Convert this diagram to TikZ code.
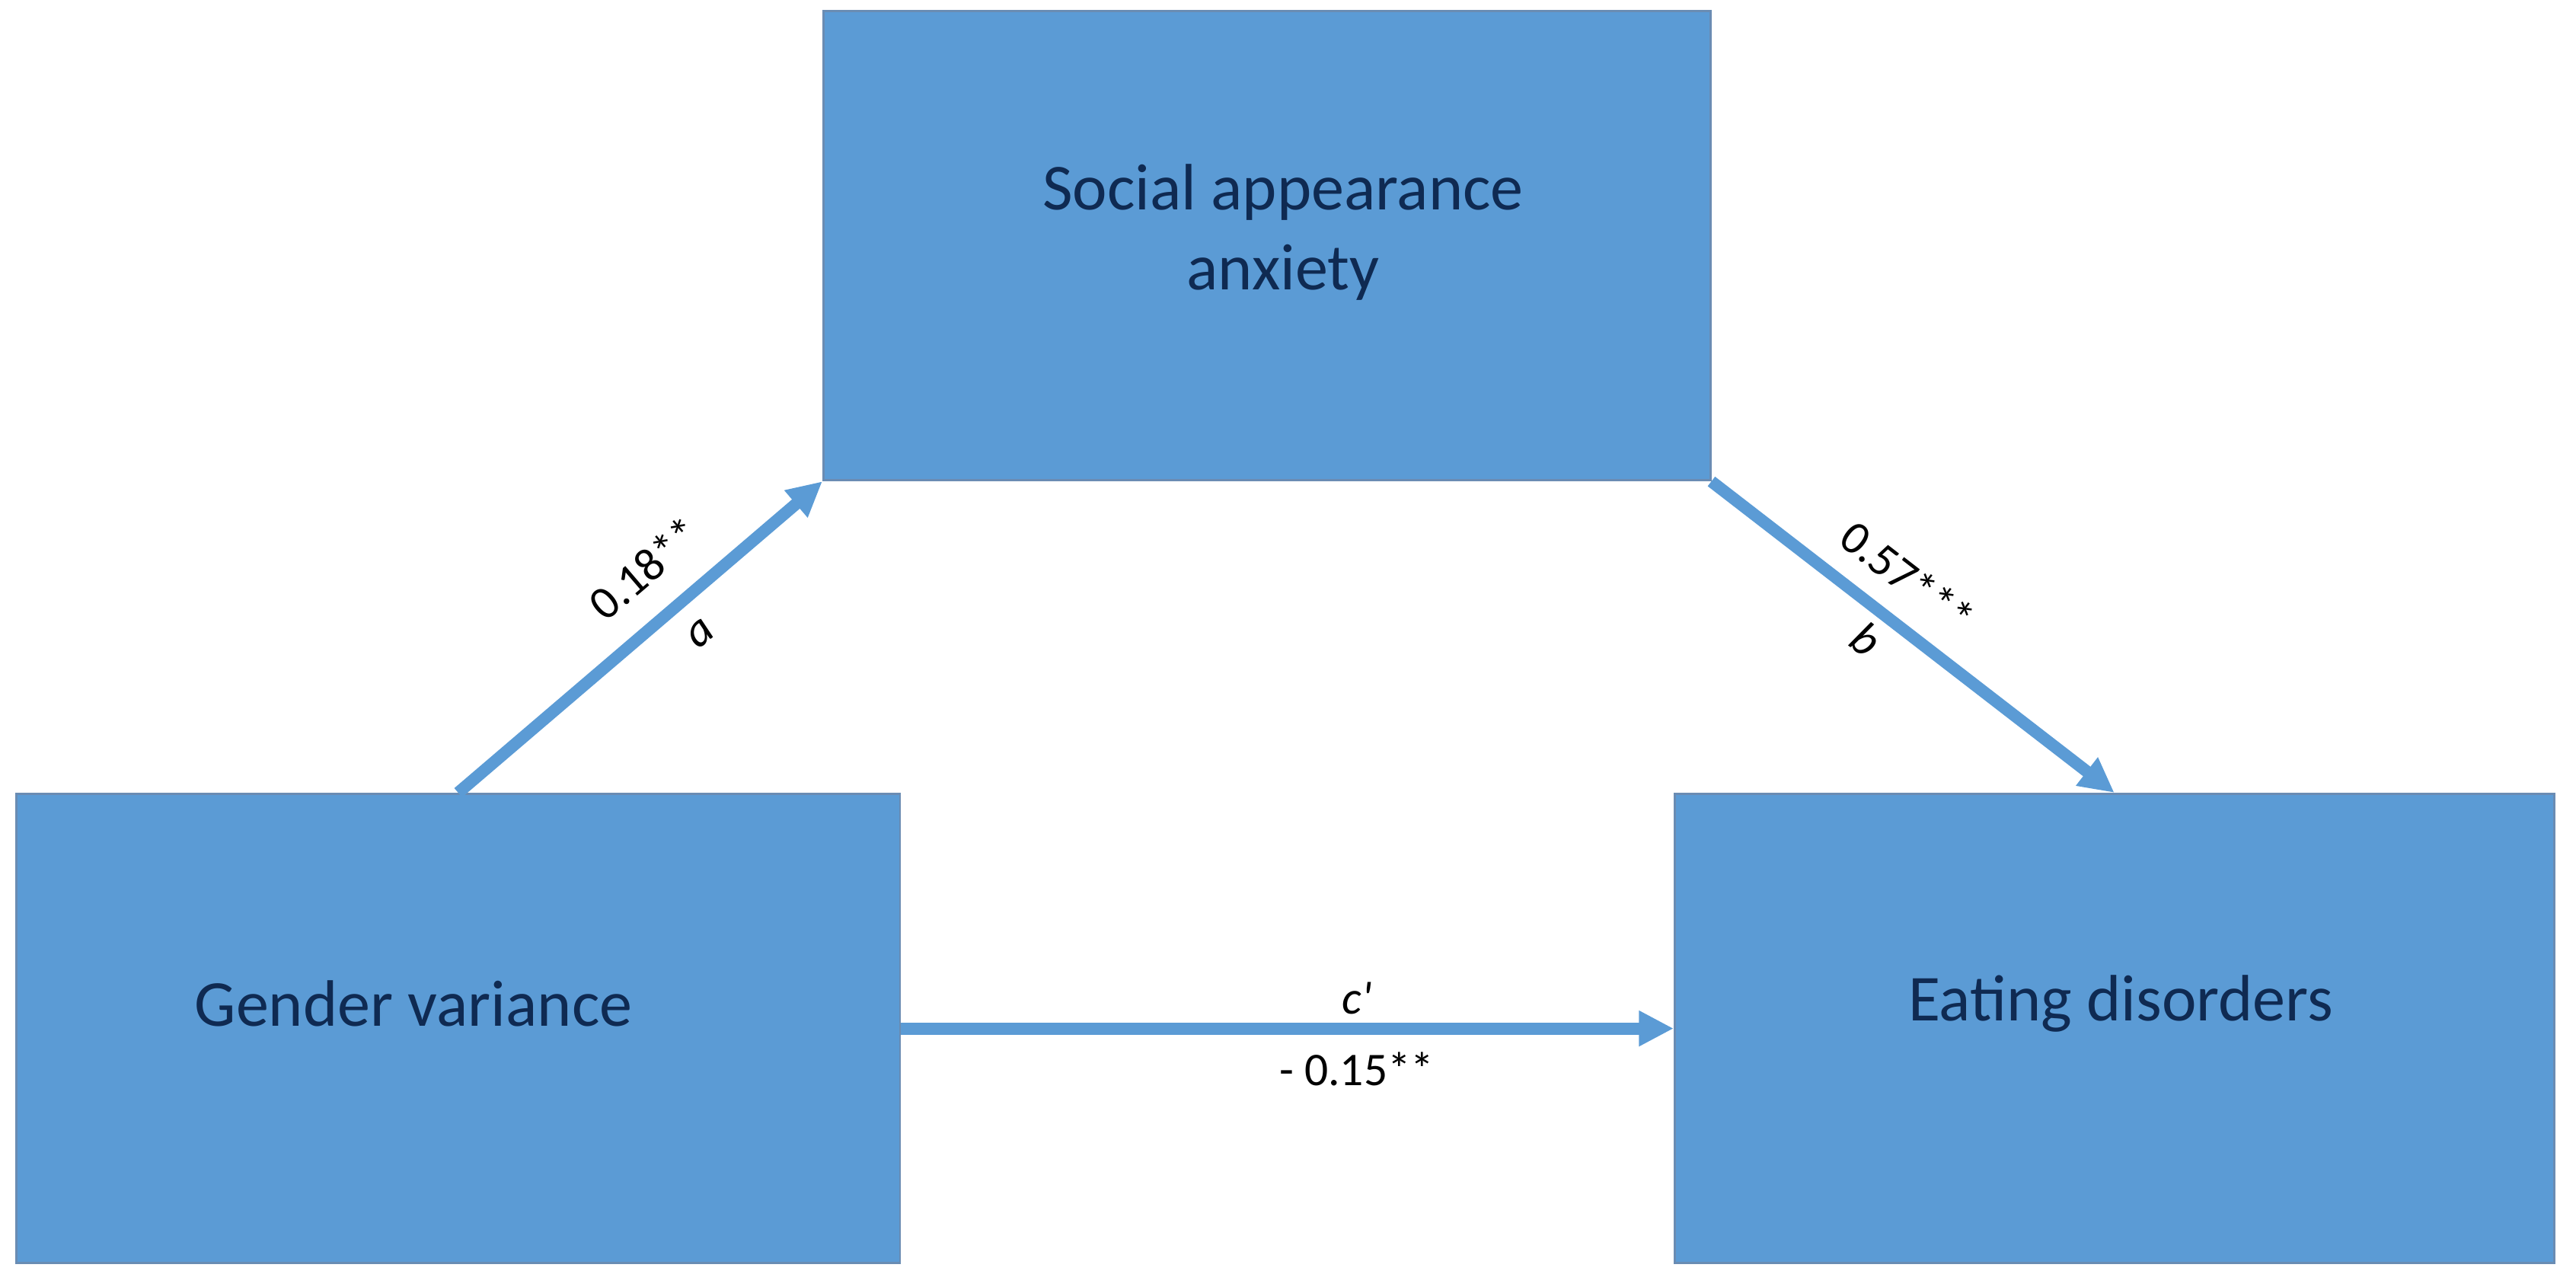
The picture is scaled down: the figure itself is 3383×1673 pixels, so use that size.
\documentclass[tikz,border=0pt]{standalone}
\usepackage{fontspec}
\setmainfont{Carlito}
\usetikzlibrary{arrows.meta}
\definecolor{boxblue}{HTML}{5B9BD5}
\definecolor{boxedge}{HTML}{6A8CB3}
\definecolor{navy}{HTML}{0F2A52}
\begin{document}
\begin{tikzpicture}[x=0.01cm,y=-0.01cm,
  box/.style={draw=boxedge, line width=0.8pt, fill=boxblue, rectangle, anchor=north west, inner sep=0pt, minimum height=6.16cm},
  boxtext/.style={text=navy, font=\fontsize{24.5}{29.9}\selectfont, align=center, inner sep=0pt},
  arr/.style={draw=boxblue, line width=4.5pt, -{Triangle[length=13pt,width=12.5pt]}},
  lbl/.style={font=\fontsize{17.5}{20}\selectfont, text=black, inner sep=0pt}]
\useasboundingbox (0,0) rectangle (3383,1673);
\node[box, minimum width=11.64cm] (saa) at (1080,13) {};
\node[box, minimum width=11.60cm] (gv) at (20,1041) {};
\node[box, minimum width=11.54cm] (ed) at (2198,1041) {};
\node[boxtext] (saat) at (1685,305) {Social appearance\\anxiety};
\node[boxtext] (gvt) at (543,1318) {Gender variance};
\node[boxtext] (edt) at (2785,1318) {Eating disorders};
\draw[arr] (gv.north) -- (saa.south west)
  node[lbl, pos=0.6, sloped, above=10pt] (la1) {0.18**}
  node[lbl, pos=0.6, sloped, below=7pt] (la2) {\itshape a};
\draw[arr] (saa.south east) -- (ed.north)
  node[lbl, pos=0.42, sloped, above=8pt] (lb1) {0.57***}
  node[lbl, pos=0.43, sloped, below=3pt] (lb2) {\itshape b};
\draw[arr] (gv.east) -- (ed.west)
  node[lbl, pos=0.59, above=3pt] (lc1) {\itshape c\textquotesingle}
  node[lbl, pos=0.59, below=6.5pt] (lc2) {- 0.15**};
\end{tikzpicture}
\end{document}
